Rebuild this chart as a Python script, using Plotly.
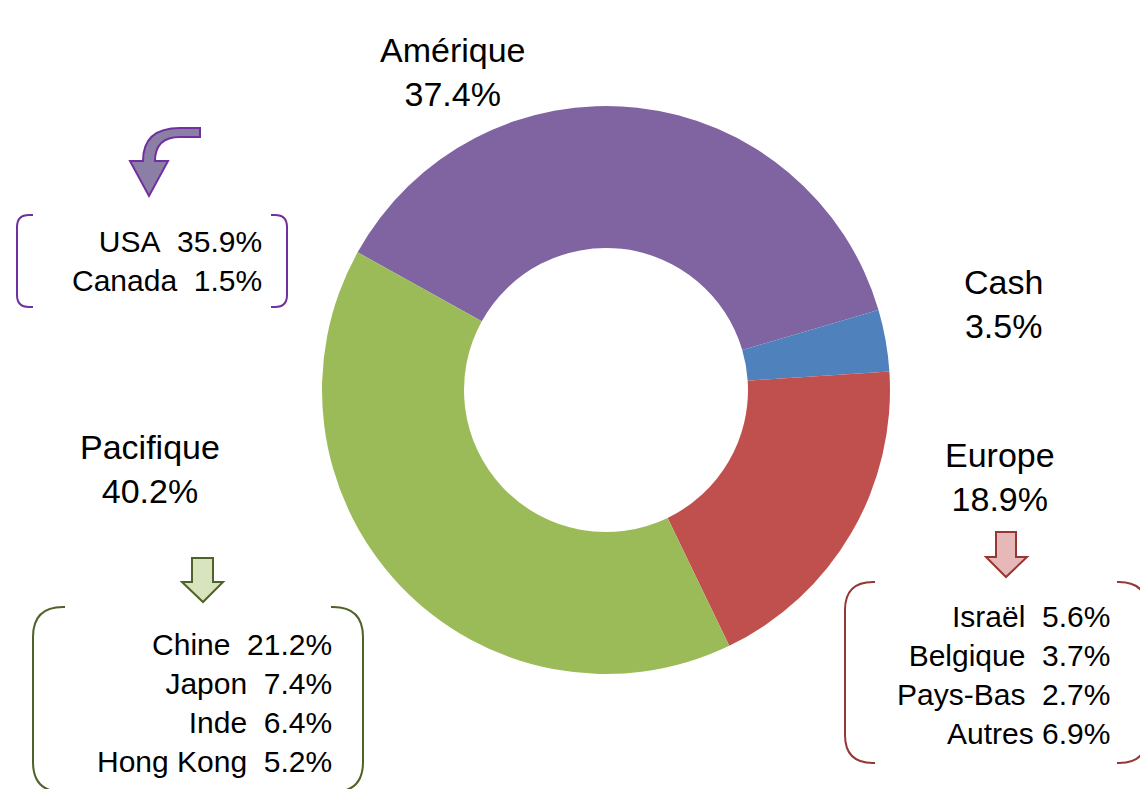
import plotly.graph_objects as go

# ---- data ----
regions = ["Amérique", "Cash", "Europe", "Pacifique"]
weights = [37.4, 3.5, 18.9, 40.2]
colors = ["#8064A2", "#4F81BD", "#C0504D", "#9BBB59"]

amer_names = ["USA", "Canada"]
amer_vals = [35.9, 1.5]
pac_names = ["Chine", "Japon", "Inde", "Hong Kong"]
pac_vals = [21.2, 7.4, 6.4, 5.2]
eur_names = ["Israël", "Belgique", "Pays-Bas", "Autres"]
eur_vals = [5.6, 3.7, 2.7, 6.9]

W, H = 1148, 789       # screen size
OFF = 8                # page body margin
FW, FH = W - OFF, H - OFF
FONT = "Liberation Sans, Arial, sans-serif"

fig = go.Figure()

# center (606,390), radius 284 px in screen coords
cx, cy, r = 606, 390, 284
fig.add_trace(go.Pie(
    labels=regions, values=weights, sort=False, direction="clockwise",
    rotation=-61, hole=0.5, textinfo="none",
    marker=dict(colors=colors, line=dict(width=0)),
    domain=dict(x=[(cx - OFF - r) / FW, (cx - OFF + r) / FW],
                y=[(H - cy - r) / FH, (H - cy + r) / FH]),
    showlegend=False,
))

# invisible pixel axes for decorations (screen coordinates)
fig.add_trace(go.Scatter(x=[OFF, W], y=[OFF, H], mode="markers", marker=dict(opacity=0),
                         showlegend=False, hoverinfo="skip"))

def fmt(v):
    return f"{v:.1f}%"

# main labels
main_pos = {"Amérique": (453, 72), "Cash": (1003, 304), "Europe": (1000, 477), "Pacifique": (150, 469)}
for name, val in zip(regions, weights):
    x, y = main_pos[name]
    fig.add_annotation(x=x, y=y, text=f"{name}<br>{fmt(val)}", showarrow=False,
                       xanchor="center", yanchor="middle", align="center",
                       font=dict(family=FONT, size=34, color="black"))

def sub_text(names, vals, sep="\u00a0\u00a0"):
    lines = []
    for n, v in zip(names, vals):
        s = sep if n != "Autres" else " "
        lines.append(f"{n}{s}{fmt(v)}")
    return "<br>".join(lines)

SUB = 30
fig.add_annotation(x=264, y=261, text=sub_text(amer_names, amer_vals), showarrow=False,
                   xanchor="right", yanchor="middle", align="right",
                   font=dict(family=FONT, size=SUB, color="black"))
fig.add_annotation(x=334, y=703, text=sub_text(pac_names, pac_vals), showarrow=False,
                   xanchor="right", yanchor="middle", align="right",
                   font=dict(family=FONT, size=SUB, color="black"))
fig.add_annotation(x=1112, y=675, text=sub_text(eur_names, eur_vals), showarrow=False,
                   xanchor="right", yanchor="middle", align="right",
                   font=dict(family=FONT, size=SUB, color="black"))

def bracket_pair(x0, x1, y0, y1, rad, ext, color):
    left = (f"M {x0+ext},{y0} L {x0+rad},{y0} Q {x0},{y0} {x0},{y0+rad} "
            f"L {x0},{y1-rad} Q {x0},{y1} {x0+rad},{y1} L {x0+ext},{y1}")
    right = (f"M {x1-ext},{y0} L {x1-rad},{y0} Q {x1},{y0} {x1},{y0+rad} "
             f"L {x1},{y1-rad} Q {x1},{y1} {x1-rad},{y1} L {x1-ext},{y1}")
    for p in (left, right):
        fig.add_shape(type="path", path=p, xref="x", yref="y",
                      line=dict(color=color, width=2))

bracket_pair(17, 287, 215, 307, 12, 16, "#7030A0")
bracket_pair(33, 363, 607, 792, 30, 32, "#4F6228")
bracket_pair(845, 1147, 582, 763, 28, 30, "#953735")

# curved purple arrow
fig.add_shape(type="path", xref="x", yref="y",
              path="M 200,128 L 180,128 Q 143,128 143,161 L 130,161 L 149,196 L 168,161 "
                   "L 155,161 Q 155,137 180,137 L 200,137 Z",
              fillcolor="#8C7FA6", line=dict(color="#7030A0", width=2))

def down_arrow(xl, xr, ytop, ymid, hl, hr, tipx, tipy, fill, line):
    p = (f"M {xl},{ytop} L {xr},{ytop} L {xr},{ymid} L {hr},{ymid} L {tipx},{tipy} "
         f"L {hl},{ymid} L {xl},{ymid} Z")
    fig.add_shape(type="path", path=p, xref="x", yref="y",
                  fillcolor=fill, line=dict(color=line, width=2))

down_arrow(192, 213, 558, 582, 182, 223, 203, 602, "#D7E4BD", "#4F6228")
down_arrow(996, 1016, 532, 557, 986, 1027, 1006, 577, "#E6B9B8", "#953735")

fig.update_xaxes(range=[OFF, W], visible=False, domain=[0, 1], fixedrange=True)
fig.update_yaxes(range=[H, OFF], visible=False, domain=[0, 1], fixedrange=True)
fig.update_layout(width=FW, height=FH, margin=dict(l=0, r=0, t=0, b=0),
                  paper_bgcolor="white", plot_bgcolor="rgba(0,0,0,0)", showlegend=False)

fig.write_html("out.html")
